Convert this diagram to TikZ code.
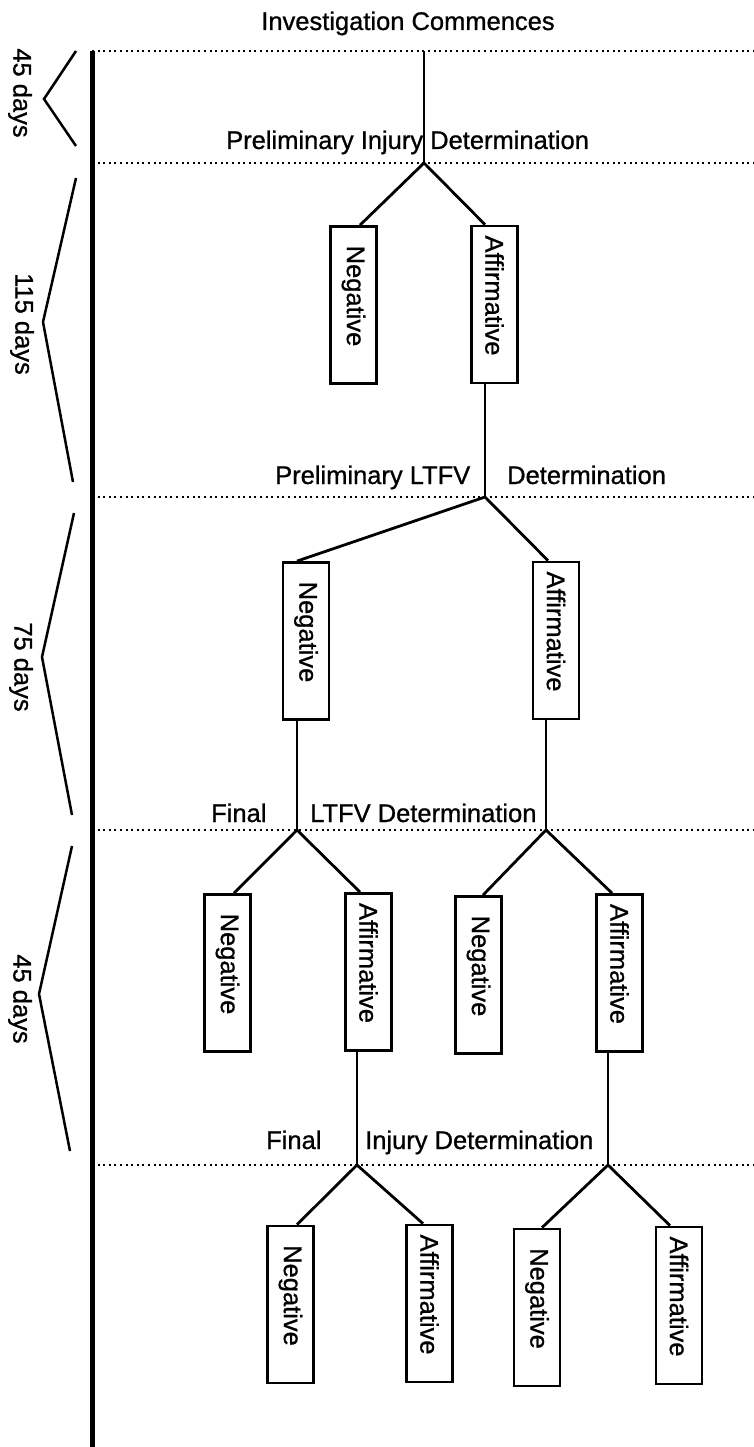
\documentclass[tikz,border=0pt]{standalone}
\usepackage{fontspec}
\setmainfont{Liberation Sans}[BoldFont={Liberation Sans},BoldFeatures={FakeBold=0.9}]
\tikzset{
  every node/.style={font=\fontsize{25.5}{30}\selectfont\bfseries},
  stage/.style={inner sep=0pt,anchor=base west},
  verdict/.style={draw,line width=2.8pt,rotate=-90,inner sep=0pt,
    minimum width=157pt,minimum height=46pt,
    execute at end node={\hspace*{18pt}}},
  grid/.style={line width=2pt,dash pattern=on 2pt off 3.6pt},
  branch/.style={line width=2.8pt},
  span/.style={line width=2.5pt},
  days/.style={rotate=-90,inner sep=0pt}
}
\begin{document}
\begin{tikzpicture}[x=1pt,y=-1pt]
  \useasboundingbox (0,0) rectangle (753,1447);
  % dotted stage lines
  \foreach \y in {51,163,497,830,1165}
    \draw[grid] (92,\y) -- (753,\y);
  % time axis (thick vertical bar)
  \draw[line width=5pt] (92,51) -- (92,1447);
  % day brackets
  \draw[span] (76,51) -- (44,99) -- (76,146);
  \draw[span] (76,178) -- (43,322) -- (73,482);
  \draw[span] (74,513) -- (42,657) -- (72,815);
  \draw[span] (72,846) -- (39,994) -- (70,1151);
  \node[days] (d1) at (20,93) {45 days};
  \node[days] (d2) at (22,324) {115 days};
  \node[days] (d3) at (21,667) {75 days};
  \node[days] (d4) at (20,999) {45 days};
  % stage labels
  \node[inner sep=0pt,anchor=base] (start) at (408,30) {Investigation Commences};
  \node[stage] (pinj) at (226,149) {Preliminary Injury Determination};
  \node[stage] (pltfv) at (275,484) {Preliminary LTFV};
  \node[stage] (pltfvd) at (507,484) {Determination};
  \node[stage] (fltfv) at (211,822) {Final};
  \node[stage] (fltfvd) at (310,822) {LTFV Determination};
  \node[stage] (finj) at (266,1149) {Final};
  \node[stage] (finjd) at (365,1149) {Injury Determination};
  % branch points
  \coordinate (top) at (424,51);
  \coordinate (n1) at (424,163);
  \coordinate (n2) at (485,497);
  \coordinate (n3a) at (297,830);
  \coordinate (n3b) at (546,830);
  \coordinate (n4a) at (357,1165);
  \coordinate (n4b) at (608,1165);
  % outcome boxes
  \node[verdict] (neg1) at (353.5,305) {Negative};
  \node[verdict] (aff1) at (494.5,304.5) {Affirmative};
  \node[verdict] (neg2) at (306,641) {Negative};
  \node[verdict] (aff2) at (556,640.5) {Affirmative};
  \node[verdict] (neg3a) at (227.5,973) {Negative};
  \node[verdict] (aff3a) at (368.5,972) {Affirmative};
  \node[verdict] (neg3b) at (478.5,975) {Negative};
  \node[verdict] (aff3b) at (619.5,973) {Affirmative};
  \node[verdict] (neg4a) at (290.5,1304.5) {Negative};
  \node[verdict] (aff4a) at (429.5,1303.5) {Affirmative};
  \node[verdict] (neg4b) at (537,1307.5) {Negative};
  \node[verdict] (aff4b) at (679,1305.5) {Affirmative};
  % tree
  \draw[branch] (top) -- (n1);
  \draw[branch] (n1) -- ([xshift=6.5pt]neg1.west);
  \draw[branch] (n1) -- ([xshift=-9.5pt]aff1.west);
  \draw[branch] ([xshift=-9.5pt]aff1.east) -- (n2);
  \draw[branch] (n2) -- ([xshift=-9pt]neg2.west);
  \draw[branch] (n2) -- ([xshift=-8pt]aff2.west);
  \draw[branch] ([xshift=-9pt]neg2.east) -- (n3a);
  \draw[branch] ([xshift=-10pt]aff2.east) -- (n3b);
  \draw[branch] (n3a) -- ([xshift=6.5pt]neg3a.west);
  \draw[branch] (n3a) -- ([xshift=-8.5pt]aff3a.west);
  \draw[branch] (n3b) -- ([xshift=4.5pt]neg3b.west);
  \draw[branch] (n3b) -- ([xshift=-7.5pt]aff3b.west);
  \draw[branch] ([xshift=-11.5pt]aff3a.east) -- (n4a);
  \draw[branch] ([xshift=-11.5pt]aff3b.east) -- (n4b);
  \draw[branch] (n4a) -- ([xshift=6.5pt]neg4a.west);
  \draw[branch] (n4a) -- ([xshift=-6.5pt]aff4a.west);
  \draw[branch] (n4b) -- ([xshift=5pt]neg4b.west);
  \draw[branch] (n4b) -- ([xshift=-9pt]aff4b.west);
\end{tikzpicture}
\end{document}
